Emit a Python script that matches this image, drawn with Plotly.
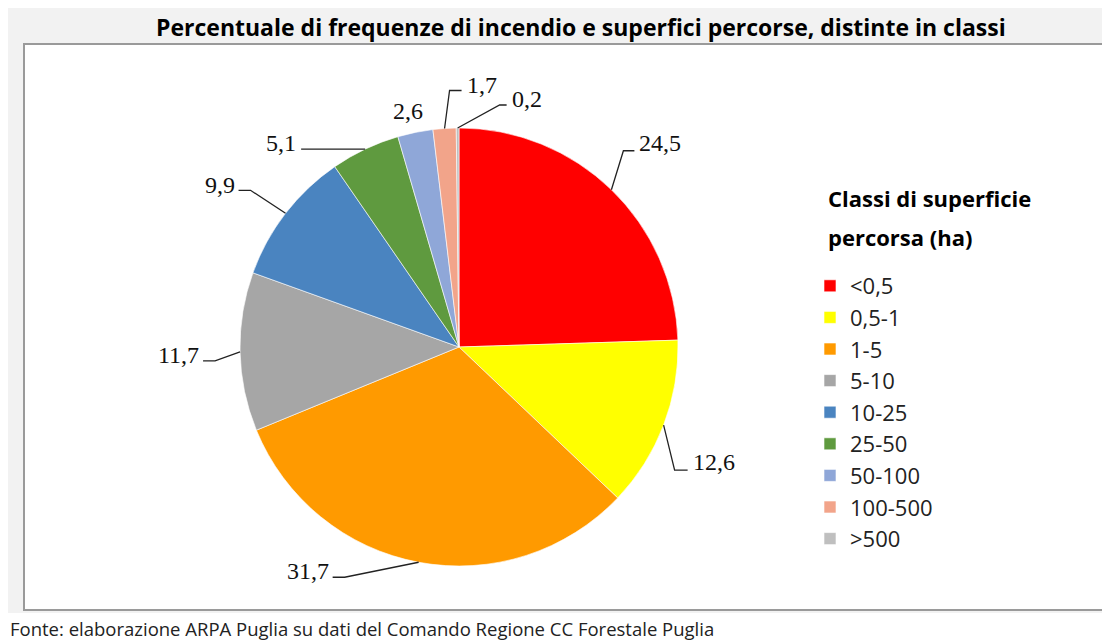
import math
import plotly.graph_objects as go

# ---- data ----
classes = ["<0,5", "0,5-1", "1-5", "5-10", "10-25", "25-50", "50-100", "100-500", ">500"]
percent = [24.5, 12.6, 31.7, 11.7, 9.9, 5.1, 2.6, 1.7, 0.2]
colors = ["#FF0000", "#FFFF00", "#FF9A00", "#A6A6A6", "#4A84C0", "#5F9A3F", "#8FA7D8", "#F2A48A", "#BFBFBF"]

title_text = "Percentuale di frequenze di incendio e superfici percorse, distinte in classi"
legend_title = ["Classi di superficie", "percorsa (ha)"]
source_text = "Fonte: elaborazione ARPA Puglia su dati del Comando Regione CC Forestale Puglia"

# ---- layout / style ----
OX, OY = 8, 8            # page margin of the html body
W, H = 1102, 633          # figure size
CX, CY, R = 459, 347, 219  # pie centre / radius in window px

def px(x):
    return (x - OX) / W

def py(y):
    return 1 - (y - OY) / H

# leader style per slice: (elbow dx, elbow dy, horizontal length, text dx, text dy, anchor)
leaders = [
    (12, -39, 11, 3, -8, "left"),
    (11, 45, 13, 3, -8, "left"),
    (-74, 15, -12, -2, -6, "right"),
    (-25, 9, -12, -2, -6, "right"),
    (-35, -23, -12, -2, -5, "right"),
    (-50, 0, -14, -3, -6, "right"),
    None,
    (5, -38, 12, 3, -5, "left"),
    (42, -23, 7, 3, -6, "left"),
]

LABEL_FONT = dict(family="Liberation Serif", size=24, color="#111111")

fig = go.Figure()
fig.add_trace(go.Pie(
    labels=classes,
    values=percent,
    sort=False,
    direction="clockwise",
    rotation=0,
    textinfo="none",
    hoverinfo="label+value",
    marker=dict(colors=colors, line=dict(color="#FFFFFF", width=0.6)),
    domain=dict(x=[px(CX - R), px(CX + R)], y=[py(CY + R), py(CY - R)]),
))

shapes = [
    dict(type="rect", xref="paper", yref="paper", x0=px(8), x1=1, y0=py(613), y1=1,
         fillcolor="#F2F2F2", line=dict(width=0), layer="below"),
    dict(type="rect", xref="paper", yref="paper", x0=px(24), x1=px(1104), y0=py(610), y1=py(44),
         fillcolor="#FFFFFF", line=dict(color="#9A9A9A", width=2), layer="below"),
]
annotations = []

total = sum(percent)
cum = 0.0
for val, style in zip(percent, leaders):
    mid = (cum + val / 2) / total
    cum += val
    ang = 2 * math.pi * mid
    ex = CX + R * math.sin(ang)
    ey = CY - R * math.cos(ang)
    label = f"{val:.1f}".replace(".", ",")
    if style is None:
        annotations.append(dict(x=px(ex - 7), y=py(ey - 21), xref="paper", yref="paper",
                                text=label, showarrow=False, xanchor="center", yanchor="middle",
                                font=LABEL_FONT))
        continue
    dx, dy, hl, tdx, tdy, anchor = style
    bx, by = ex + dx, ey + dy
    hx = bx + hl
    path = f"M {px(ex)},{py(ey)} L {px(bx)},{py(by)} L {px(hx)},{py(by)}"
    shapes.append(dict(type="path", xref="paper", yref="paper", path=path,
                       line=dict(color="#222222", width=1.3)))
    annotations.append(dict(x=px(hx + tdx), y=py(by + tdy), xref="paper", yref="paper",
                            text=label, showarrow=False, xanchor=anchor, yanchor="middle",
                            font=LABEL_FONT))

annotations.append(dict(x=px(581), y=py(27), xref="paper", yref="paper", text=f"<b>{title_text}</b>",
                        showarrow=False, xanchor="center", yanchor="middle",
                        font=dict(family="Open Sans", size=23, color="#000000")))
annotations.append(dict(x=px(826), y=py(198), xref="paper", yref="paper", text=f"<b>{legend_title[0]}</b>",
                        showarrow=False, xanchor="left", yanchor="middle",
                        font=dict(family="Open Sans", size=22, color="#000000")))
annotations.append(dict(x=px(826), y=py(237), xref="paper", yref="paper", text=f"<b>{legend_title[1]}</b>",
                        showarrow=False, xanchor="left", yanchor="middle",
                        font=dict(family="Open Sans", size=22, color="#000000")))
annotations.append(dict(x=0, y=py(628), xref="paper", yref="paper", text=source_text,
                        showarrow=False, xanchor="left", yanchor="middle",
                        font=dict(family="Open Sans", size=18.5, color="#222222")))

fig.update_layout(
    width=W, height=H,
    margin=dict(l=0, r=0, t=0, b=0),
    paper_bgcolor="#FFFFFF",
    plot_bgcolor="#FFFFFF",
    showlegend=True,
    legend=dict(x=px(810), y=py(265), xanchor="left", yanchor="top",
                font=dict(family="Open Sans", size=22, color="#222222"),
                bgcolor="rgba(0,0,0,0)", traceorder="normal"),
    shapes=shapes,
    annotations=annotations,
)

fig.write_html("out.html")
